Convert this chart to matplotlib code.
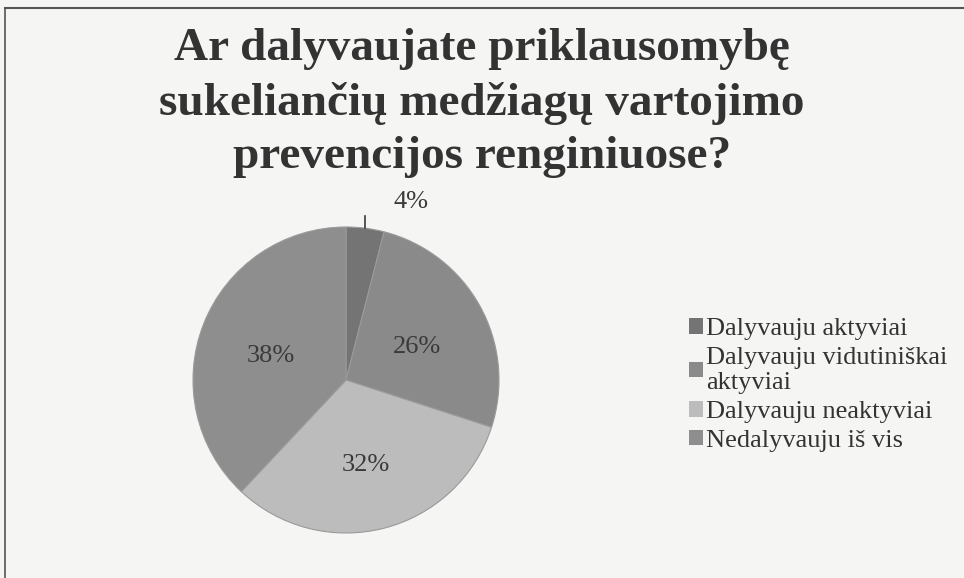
import matplotlib
matplotlib.use("Agg")
import matplotlib.pyplot as plt
import numpy as np

categories = ["Dalyvauju aktyviai", "Dalyvauju vidutiniškai\naktyviai",
              "Dalyvauju neaktyviai", "Nedalyvauju iš vis"]
values = [4, 26, 32, 38]
colors = ["#747474", "#8a8a8a", "#bcbcbc", "#8e8e8e"]
title = "Ar dalyvaujate priklausomybę\nsukeliančių medžiagų vartojimo\nprevencijos renginiuose?"

W, H = 964, 578
fig = plt.figure(figsize=(W / 100, H / 100), dpi=100)
fig.patch.set_facecolor("#f5f5f3")

# frame border (left and top visible)
fig.add_artist(plt.Line2D([5 / W, 5 / W], [0, 1 - 8 / H], color="#555555", lw=1.2,
                          transform=fig.transFigure))
fig.add_artist(plt.Line2D([5 / W, 1], [1 - 8 / H, 1 - 8 / H], color="#555555", lw=1.5,
                          transform=fig.transFigure))

fig.text(0.5, 1 - 103 / H, title, ha="center", va="center",
         family="Liberation Serif", weight="bold", fontsize=34,
         color="#333333", linespacing=1.35)

cx, cy, r = 346, 380, 153
ax = fig.add_axes([(cx - r) / W, (H - cy - r) / H, 2 * r / W, 2 * r / H])
ax.set_facecolor("none")
wedges, texts, autotexts = ax.pie(values, colors=colors, startangle=90, counterclock=False,
                                  autopct="%d%%", pctdistance=0.53,
                                  textprops=dict(family="Liberation Serif", fontsize=19,
                                                 color="#3a3a3a"),
                                  wedgeprops=dict(linewidth=0.8, edgecolor="#9a9a9a"))
ax.set_xlim(-1, 1)
ax.set_ylim(-1, 1)
ax.axis("off")
for t in autotexts[1:]:
    x, y = t.get_position()
    t.set_position((x, y - 0.04))

# first slice label outside with leader
w0 = wedges[0]
mid = np.deg2rad((w0.theta1 + w0.theta2) / 2)
x0, y0 = np.cos(mid), np.sin(mid)
ax.plot([x0, x0], [y0, y0 + 0.08], color="#3a3a3a", lw=1.2, clip_on=False)
autotexts[0].set_position((x0 + 0.3, y0 + 0.17))

handles = [plt.Rectangle((0, 0), 1, 1, facecolor=c, edgecolor="none") for c in colors]
leg = fig.legend(handles, categories, loc="upper left",
                 bbox_to_anchor=(665 / W, 1 - 294 / H), frameon=False,
                 prop=dict(family="Liberation Serif", size=19),
                 handlelength=0.55, handleheight=0.55, handletextpad=0.1,
                 labelspacing=0.25, labelcolor="#333333")
for t in leg.get_texts():
    t.set_linespacing(1.2)

fig.savefig("out.png", dpi=100, facecolor=fig.get_facecolor())
